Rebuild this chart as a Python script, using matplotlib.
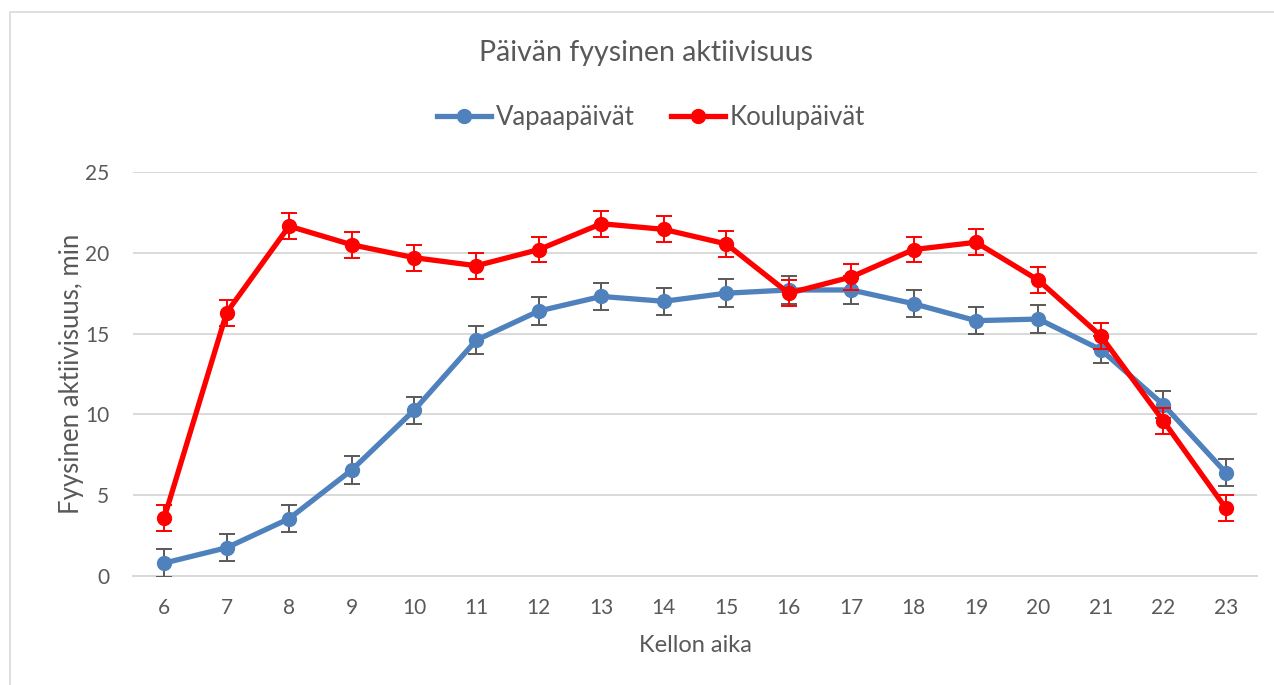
import matplotlib.pyplot as plt
from matplotlib.patches import Rectangle

# data
hours = [6, 7, 8, 9, 10, 11, 12, 13, 14, 15, 16, 17, 18, 19, 20, 21, 22, 23]
vapaa = [0.8, 1.75, 3.55, 6.55, 10.25, 14.6, 16.4, 17.3, 17.0, 17.5, 17.7, 17.7, 16.85, 15.8, 15.9, 14.0, 10.6, 6.4]
koulu = [3.6, 16.3, 21.65, 20.5, 19.7, 19.2, 20.2, 21.8, 21.45, 20.55, 17.5, 18.5, 20.2, 20.65, 18.3, 14.85, 9.6, 4.2]
vapaa_err = [0.85] * len(hours)
koulu_err = [0.8] * len(hours)

blue = '#4F81BD'
red = '#FF0000'
txt = '#595959'
grid_c = '#D9D9D9'

plt.rcParams['font.family'] = ['Lato', 'DejaVu Sans']

fig = plt.figure(figsize=(12.74, 6.85), dpi=100)
ax = fig.add_axes([133 / 1274, 1 - 576 / 685, (1257 - 133) / 1274, (576 - 172) / 685])

# chart area border (cropped on the right and bottom)
fig.patches.append(Rectangle((10 / 1274, -0.1), 1.2, 1 - 12 / 685 + 0.1,
                             transform=fig.transFigure, fill=False,
                             edgecolor=grid_c, linewidth=1.2))

ax.errorbar(hours, vapaa, yerr=vapaa_err, color=blue, lw=3.8, marker='o', ms=10,
            ecolor=txt, elinewidth=1.4, capsize=6, capthick=1.4,
            label='Vapaapäivät', zorder=3)
ax.errorbar(hours, koulu, yerr=koulu_err, color=red, lw=3.8, marker='o', ms=10,
            ecolor=red, elinewidth=1.4, capsize=6, capthick=1.4,
            label='Koulupäivät', zorder=4)

ax.set_xlim(5.5, 23.5)
ax.set_ylim(0, 25)
ax.set_xticks(hours)
ax.set_yticks([0, 5, 10, 15, 20, 25])
ax.yaxis.grid(True, color=grid_c, linewidth=1.4)
ax.set_axisbelow(True)
for s in ['top', 'right', 'left']:
    ax.spines[s].set_visible(False)
ax.spines['bottom'].set_color(grid_c)
ax.spines['bottom'].set_linewidth(1.4)
ax.tick_params(length=0, labelsize=15, labelcolor=txt)
ax.tick_params(axis='x', pad=16)
ax.tick_params(axis='y', pad=17)

ax.set_xlabel('Kellon aika', fontsize=17, color=txt, labelpad=12)
ax.set_ylabel('Fyysinen aktiivisuus, min', fontsize=18.5, color=txt, labelpad=1)

fig.text(0.507, 1 - 53 / 685, 'Päivän fyysinen aktiivisuus', ha='center', va='center',
         fontsize=20.5, color=txt)

handles, labels = ax.get_legend_handles_labels()
handles = [h[0] for h in handles]
leg = fig.legend(handles, labels, loc='center', bbox_to_anchor=(0.511, 1 - 117 / 685),
                 ncol=2, frameon=False, fontsize=18.5, handlelength=2.1,
                 handletextpad=0.2, columnspacing=1.4)
for t in leg.get_texts():
    t.set_color(txt)

fig.savefig('out.png', dpi=100)
